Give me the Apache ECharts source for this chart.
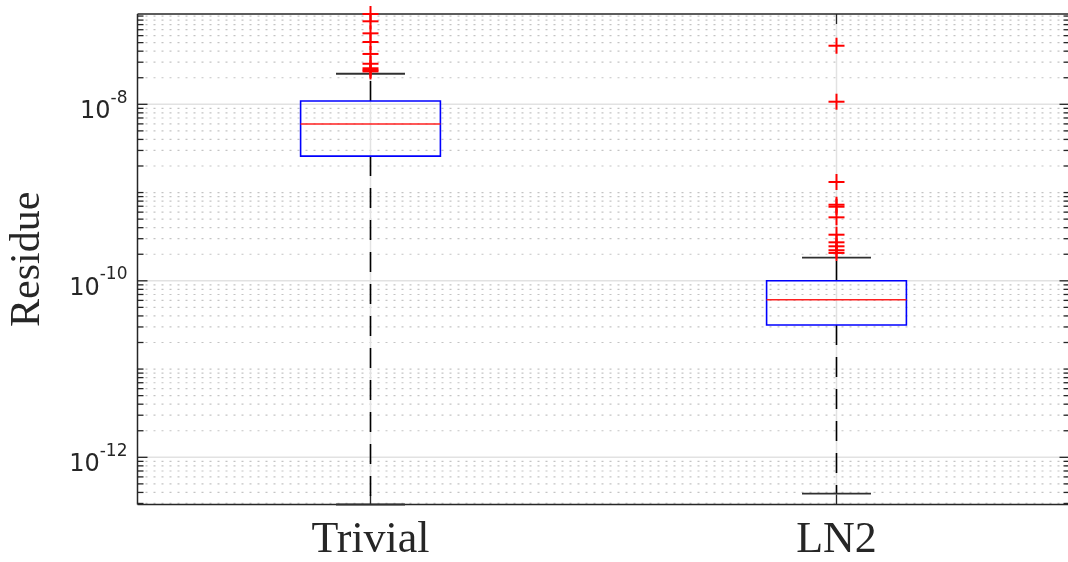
<!DOCTYPE html>
<html>
<head>
<meta charset="utf-8">
<script src="https://cdn.jsdelivr.net/npm/echarts@6/dist/echarts.min.js"></script>
<style>
  html, body { margin: 0; padding: 0; background: #ffffff; }
  #chart { width: 1068px; height: 562px; }
</style>
</head>
<body>
<div id="chart"></div>
<script>
// Box-plot summary of residues per method (log scale)
const categories = ['Trivial', 'LN2'];
const lowerWhisker = [2.92e-13, 3.87e-13];
const q1 = [2.59e-9, 3.16e-11];
const median = [5.98e-9, 6.1e-11];
const q3 = [1.09e-8, 1.0e-10];
const upperWhisker = [2.22e-8, 1.83e-10];
const outliersTrivial = [1.055e-7, 8.72e-8, 6.37e-8, 5.08e-8, 3.72e-8, 2.88e-8, 2.56e-8, 2.45e-8, 2.36e-8];
const outliersLN2 = [4.61e-8, 1.07e-8, 1.317e-9, 7.28e-10, 6.91e-10, 5.24e-10, 3.33e-10, 2.73e-10, 2.46e-10, 2.22e-10, 2.07e-10];
const yLabelExponents = [-12, -10, -8];
const yMin = 2.92e-13;
const yMax = 1.055e-7;

const AXIS_COLOR = '#262626';

const boxData = categories.map((c, i) => [i, lowerWhisker[i], q1[i], median[i], q3[i], upperWhisker[i]]);
const outlierData = []
  .concat(outliersTrivial.map(v => [0, v]))
  .concat(outliersLN2.map(v => [1, v]));

// Grid lines, frame edges and inward ticks of the log-scaled axes
function renderFrame(params, api) {
  const cs = params.coordSys;
  const left = cs.x, right = cs.x + cs.width, top = cs.y, bottom = cs.y + cs.height;
  const gridLines = [];
  const ticks = [];
  const tickStyle = { stroke: AXIS_COLOR, lineWidth: 1.3 };
  const eMin = Math.floor(Math.log10(yMin));
  const eMax = Math.ceil(Math.log10(yMax));
  for (let e = eMin; e <= eMax; e++) {
    for (let m = 1; m <= 9; m++) {
      const v = m * Math.pow(10, e);
      if (v < yMin * 1.0001 || v > yMax * 0.9999) continue;
      const y = api.coord([0, v])[1];
      const major = m === 1 && yLabelExponents.indexOf(e) >= 0;
      gridLines.push({
        type: 'line',
        shape: { x1: left, y1: y, x2: right, y2: y },
        style: major
          ? { stroke: '#e2e2e2', lineWidth: 1.5 }
          : { stroke: '#c4c4c4', lineWidth: 1.2, lineDash: [2, 6] }
      });
      const len = major ? 10 : 6;
      ticks.push({ type: 'line', shape: { x1: left, y1: y, x2: left + len, y2: y }, style: tickStyle });
      ticks.push({ type: 'line', shape: { x1: right, y1: y, x2: right - len, y2: y }, style: tickStyle });
    }
  }
  categories.forEach((c, i) => {
    const x = api.coord([i, yMin])[0];
    gridLines.push({ type: 'line', shape: { x1: x, y1: top, x2: x, y2: bottom }, style: { stroke: '#e2e2e2', lineWidth: 1.5 } });
    ticks.push({ type: 'line', shape: { x1: x, y1: bottom, x2: x, y2: bottom - 10 }, style: tickStyle });
    ticks.push({ type: 'line', shape: { x1: x, y1: top, x2: x, y2: top + 10 }, style: tickStyle });
  });
  const edge = { stroke: AXIS_COLOR, lineWidth: 1.5 };
  const edges = [
    { type: 'line', shape: { x1: left, y1: top, x2: right, y2: top }, style: edge },
    { type: 'line', shape: { x1: left, y1: bottom, x2: right, y2: bottom }, style: edge },
    { type: 'line', shape: { x1: left, y1: top, x2: left, y2: bottom }, style: edge },
    { type: 'line', shape: { x1: right, y1: top, x2: right, y2: bottom }, style: edge }
  ];
  return { type: 'group', children: gridLines.concat(ticks, edges) };
}

// Box, median, dashed whiskers and caps
function renderBox(params, api) {
  const i = api.value(0);
  const band = api.size([1, 0])[0];
  const halfBox = band * 0.15;
  const halfCap = band * 0.074;
  const x = api.coord([i, api.value(3)])[0];
  const yLow = api.coord([i, api.value(1)])[1];
  const yQ1 = api.coord([i, api.value(2)])[1];
  const yMed = api.coord([i, api.value(3)])[1];
  const yQ3 = api.coord([i, api.value(4)])[1];
  const yUp = api.coord([i, api.value(5)])[1];
  const dash = { stroke: '#000000', lineWidth: 1.6, lineDash: [20, 12] };
  const cap = { stroke: '#303030', lineWidth: 1.8 };
  return {
    type: 'group',
    children: [
      { type: 'line', shape: { x1: x, y1: yQ1, x2: x, y2: yLow }, style: dash },
      { type: 'line', shape: { x1: x, y1: yQ3, x2: x, y2: yUp }, style: dash },
      { type: 'line', shape: { x1: x - halfCap, y1: yLow, x2: x + halfCap, y2: yLow }, style: cap },
      { type: 'line', shape: { x1: x - halfCap, y1: yUp, x2: x + halfCap, y2: yUp }, style: cap },
      { type: 'rect', shape: { x: x - halfBox, y: yQ3, width: 2 * halfBox, height: yQ1 - yQ3 },
        style: { fill: null, stroke: '#0000ff', lineWidth: 1.6 } },
      { type: 'line', shape: { x1: x - halfBox, y1: yMed, x2: x + halfBox, y2: yMed },
        style: { stroke: '#ff2020', lineWidth: 1.5 } }
    ]
  };
}

// Outliers as red plus signs
function renderOutlier(params, api) {
  const p = api.coord([api.value(0), api.value(1)]);
  const h = 8;
  const st = { stroke: '#ff0000', lineWidth: 2 };
  return {
    type: 'group',
    children: [
      { type: 'line', shape: { x1: p[0] - h, y1: p[1], x2: p[0] + h, y2: p[1] }, style: st },
      { type: 'line', shape: { x1: p[0], y1: p[1] - h, x2: p[0], y2: p[1] + h }, style: st }
    ]
  };
}

const chart = echarts.init(document.getElementById('chart'), null, { renderer: 'canvas' });
chart.setOption({
  animation: false,
  backgroundColor: '#ffffff',
  grid: {
    show: false,
    left: 137.5, top: 14, width: 932, height: 490.5,
    containLabel: false,
    outerBoundsMode: 'none'
  },
  xAxis: {
    type: 'category',
    data: categories,
    boundaryGap: true,
    axisLine: { show: false },
    axisTick: { show: false },
    splitLine: { show: false },
    axisLabel: {
      margin: 14,
      fontFamily: 'Liberation Serif',
      fontSize: 44,
      lineHeight: 44,
      color: AXIS_COLOR
    }
  },
  yAxis: {
    type: 'log',
    logBase: 10,
    min: yMin,
    max: yMax,
    axisLine: { show: false },
    axisTick: { show: false },
    splitLine: { show: false },
    minorTick: { show: false },
    minorSplitLine: { show: false },
    name: 'Residue',
    nameLocation: 'middle',
    nameRotate: 90,
    nameGap: 89,
    nameTextStyle: {
      fontFamily: 'Liberation Serif',
      fontSize: 42,
      lineHeight: 42,
      color: AXIS_COLOR
    },
    axisLabel: {
      margin: 10,
      showMinLabel: false,
      showMaxLabel: false,
      formatter: function (v) {
        const e = Math.log10(v);
        const r = Math.round(e);
        if (Math.abs(e - r) > 1e-6 || yLabelExponents.indexOf(r) < 0) return '';
        return '{base|10}{exp|' + r + '}';
      },
      rich: {
        base: { fontFamily: 'DejaVu Sans', fontSize: 24, lineHeight: 24, color: AXIS_COLOR, padding: [15, 0, 0, 0] },
        exp: { fontFamily: 'DejaVu Sans', fontSize: 17, lineHeight: 17, color: AXIS_COLOR, padding: [5, 0, 17, 0] }
      }
    }
  },
  series: [
    {
      type: 'custom',
      name: 'frame',
      renderItem: renderFrame,
      data: [[0, yMin]],
      silent: true,
      z: 1
    },
    {
      type: 'custom',
      name: 'box',
      renderItem: renderBox,
      encode: { x: 0, y: [1, 2, 3, 4, 5] },
      data: boxData,
      z: 3
    },
    {
      type: 'custom',
      name: 'outliers',
      renderItem: renderOutlier,
      encode: { x: 0, y: 1 },
      data: outlierData,
      clip: false,
      z: 4
    }
  ]
});
</script>
</body>
</html>
